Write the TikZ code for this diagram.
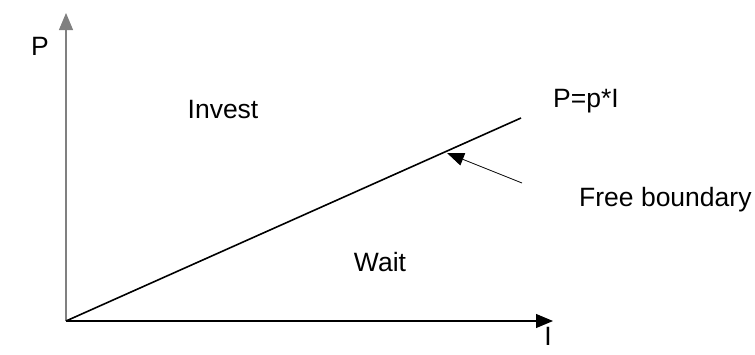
\documentclass[tikz,border=0pt]{standalone}
\usepackage{fontspec}
\setmainfont{Liberation Sans}
\usetikzlibrary{arrows.meta}
\begin{document}
\begin{tikzpicture}[x=1pt,y=-1pt,
  lbl/.style={inner sep=0pt,font=\fontsize{26.5}{30}\selectfont},
  axis/.style={line width=1.1pt,-{Triangle[length=17pt,width=14pt]}},
  ptr/.style={line width=0.8pt,-{Triangle[length=17pt,width=13pt]}}]
\useasboundingbox (0,0) rectangle (755,354);
\coordinate (O) at (66,321);
\coordinate (ytip) at (66,13);
\coordinate (xtip) at (553,321);
\coordinate (B) at (521,118);
\coordinate (ptrs) at (522,183);
\coordinate (ptre) at (447,153);
\draw[axis,draw=gray] (O) -- (ytip);
\draw[axis] (O) -- (xtip);
\draw[line width=1.6pt] (O) -- (B);
\draw[ptr] (ptrs) -- (ptre);
\node[lbl] (P) at (40,46) {P};
\node[lbl,anchor=south] (I) at (548,346) {I};
\node[lbl] (inv) at (223,110) {Invest};
\node[lbl] (wait) at (380,262) {Wait};
\node[lbl,anchor=west] (eq) at (553,101) {P=p*I};
\node[lbl,anchor=west] (fb) at (579,200) {Free boundary};
\end{tikzpicture}
\end{document}
